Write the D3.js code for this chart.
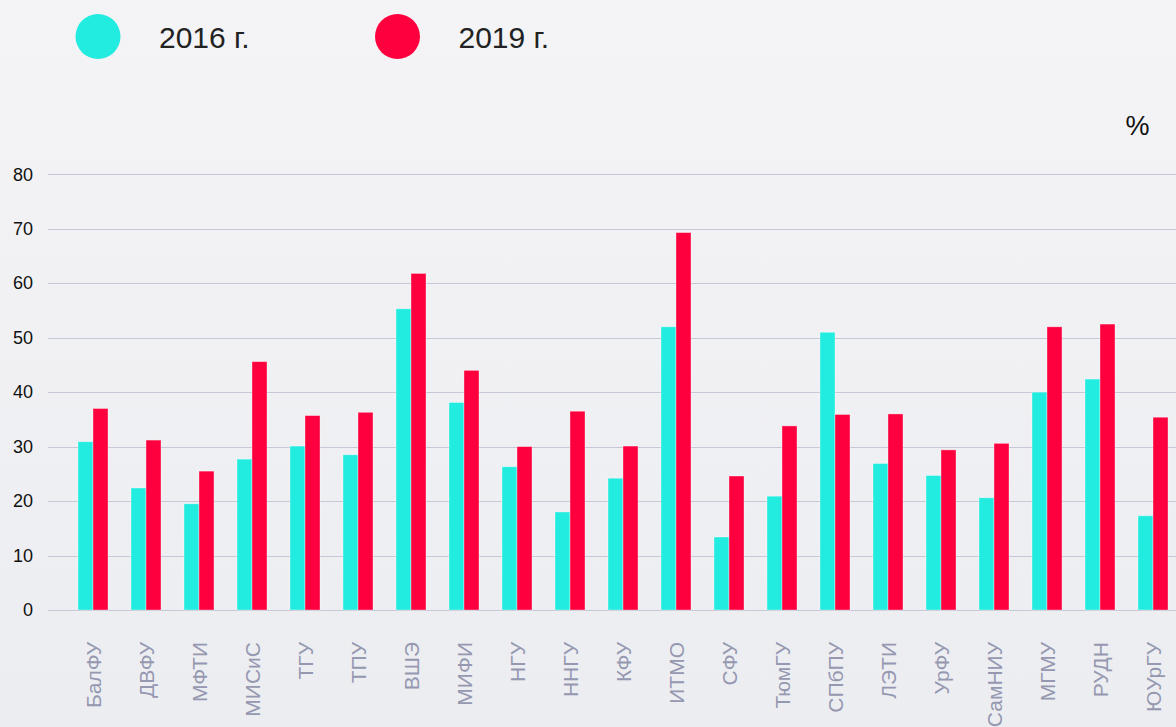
<!DOCTYPE html>
<html>
<head>
<meta charset="utf-8">
<script src="https://cdn.jsdelivr.net/npm/d3@7"></script>
<style>
  html, body { margin: 0; padding: 0; }
  body { width: 1176px; height: 727px; overflow: hidden; }
  svg { display: block; }
</style>
</head>
<body>
<div id="chart"></div>
<script>
// universities along the x axis
var universities = ["БалФУ", "ДВФУ", "МФТИ", "МИСиС", "ТГУ", "ТПУ", "ВШЭ", "МИФИ", "НГУ", "ННГУ", "КФУ",
    "ИТМО", "СФУ", "ТюмГУ", "СПбПУ", "ЛЭТИ", "УрФУ", "СамНИУ", "МГМУ", "РУДН", "ЮУрГУ"];

// values, %
var values2016 = [30.9, 22.4, 19.5, 27.7, 30.1, 28.5, 55.3, 38.1, 26.3, 18.0, 24.2,
    52.0, 13.4, 20.9, 51.0, 26.9, 24.7, 20.6, 40.0, 42.4, 17.3];
var values2019 = [37.0, 31.2, 25.5, 45.6, 35.7, 36.3, 61.8, 44.0, 30.0, 36.5, 30.1,
    69.3, 24.6, 33.8, 35.9, 36.0, 29.4, 30.6, 52.0, 52.5, 35.4];

var seriesNames = ["2016 г.", "2019 г."];
var yTicks = [0, 10, 20, 30, 40, 50, 60, 70, 80];

var colors = ["#22ebdf", "#ff003f"];

var width = 1176,
    height = 727;

var svg = d3.select("#chart")
    .append("svg")
    .attr("width", width)
    .attr("height", height);

// soft background
var grad = svg.append("defs").append("linearGradient")
    .attr("id", "bg")
    .attr("x1", 0).attr("y1", 0).attr("x2", 0).attr("y2", 1);
grad.append("stop").attr("offset", "0%").attr("stop-color", "#f4f4f6");
grad.append("stop").attr("offset", "100%").attr("stop-color", "#ecedf1");

svg.append("rect")
    .attr("width", width)
    .attr("height", height)
    .attr("fill", "url(#bg)");

// scales
var y = d3.scaleLinear()
    .domain([0, 80])
    .range([610, 174.3]);

var x = d3.scaleBand()
    .domain(universities)
    .range([66.5, 66.5 + 21 * 53])
    .paddingInner(0.434)
    .paddingOuter(0.217);

var xSeries = d3.scaleBand()
    .domain([0, 1])
    .range([0, x.bandwidth()]);

// grid lines
svg.append("g")
    .attr("class", "grid")
    .selectAll("line")
    .data(yTicks)
    .enter().append("line")
    .attr("x1", 48)
    .attr("x2", width)
    .attr("y1", function(d) { return Math.round(y(d)) + 0.5; })
    .attr("y2", function(d) { return Math.round(y(d)) + 0.5; })
    .attr("stroke", "#c7c7d7")
    .attr("stroke-width", 1.2);

// y axis labels
var yAxis = d3.axisLeft(y)
    .tickValues(yTicks)
    .tickSize(0)
    .tickPadding(0);

var yAxisG = svg.append("g")
    .attr("transform", "translate(33,0)")
    .call(yAxis);
yAxisG.select(".domain").remove();
yAxisG.selectAll("text")
    .attr("fill", "#111")
    .attr("font-family", "'Liberation Sans', Arial, sans-serif")
    .attr("font-size", "18px");

// bars
var groups = svg.append("g")
    .selectAll("g")
    .data(universities)
    .enter().append("g")
    .attr("transform", function(d) { return "translate(" + x(d) + ",0)"; });

groups.selectAll("rect")
    .data(function(d, i) { return [values2016[i], values2019[i]]; })
    .enter().append("rect")
    .attr("x", function(d, j) { return xSeries(j); })
    .attr("y", function(d) { return y(d); })
    .attr("width", xSeries.bandwidth())
    .attr("height", function(d) { return y(0) - y(d); })
    .attr("fill", function(d, j) { return colors[j]; })
    .attr("stroke", "rgba(255,255,255,0.45)")
    .attr("stroke-width", 0.8);

// x axis labels, rotated
var xAxis = d3.axisBottom(x)
    .tickSize(0)
    .tickPadding(0);

var xAxisG = svg.append("g")
    .attr("transform", "translate(0,642)")
    .call(xAxis);
xAxisG.select(".domain").remove();
xAxisG.selectAll("text")
    .attr("transform", "rotate(-90)")
    .attr("text-anchor", "end")
    .attr("x", 0)
    .attr("y", 0)
    .attr("dy", "0.36em")
    .attr("fill", "#9598b0")
    .attr("font-family", "'Liberation Sans', Arial, sans-serif")
    .attr("font-size", "21px");

// legend
var legendX = [98, 397.5];
var legend = svg.append("g")
    .selectAll("g")
    .data(seriesNames)
    .enter().append("g")
    .attr("transform", function(d, i) { return "translate(" + legendX[i] + ",36.5)"; });

legend.append("circle")
    .attr("r", 22.5)
    .attr("fill", function(d, i) { return colors[i]; });

legend.append("text")
    .attr("x", 61)
    .attr("y", 11)
    .attr("fill", "#222")
    .attr("font-family", "'Liberation Sans', Arial, sans-serif")
    .attr("font-size", "30px")
    .text(function(d) { return d; });

// unit label
svg.append("text")
    .attr("x", 1137.5)
    .attr("y", 135)
    .attr("text-anchor", "middle")
    .attr("fill", "#111")
    .attr("font-family", "'Liberation Sans', Arial, sans-serif")
    .attr("font-size", "27px")
    .text("%");
</script>
</body>
</html>
